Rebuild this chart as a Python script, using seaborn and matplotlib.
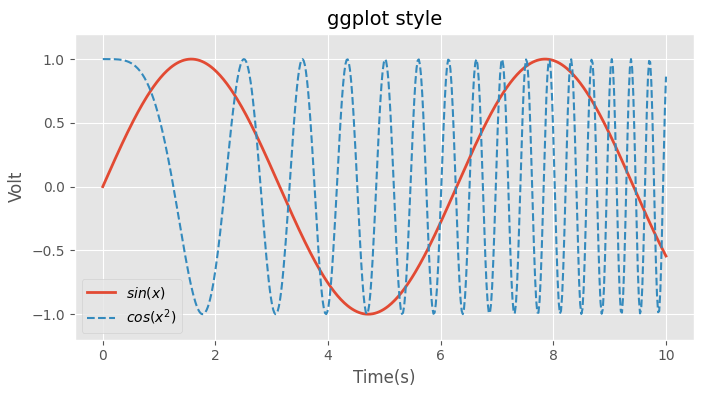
import numpy as np
import pandas as pd
import matplotlib
matplotlib.use('Agg')
import matplotlib.pyplot as plt
import seaborn as sns

# data: the two labelled signals sin(x) and cos(x^2) on 0..10
x = np.linspace(0, 10, 500)
sin_vals = np.sin(x)
cos_vals = np.cos(x ** 2)

plt.style.use('ggplot')

fig, ax = plt.subplots(figsize=(7.04, 3.95), dpi=100)
sns.lineplot(x=x, y=sin_vals, ax=ax, color='#E24A33', linewidth=2, label='$sin(x)$')
sns.lineplot(x=x, y=cos_vals, ax=ax, color='#348ABD', linewidth=1.5, linestyle='--', label='$cos(x^2)$')

ax.set_title('ggplot style', fontsize=14)
ax.set_xlabel('Time(s)')
ax.set_ylabel('Volt')
ax.set_ylim(-1.2, 1.2)
ax.legend(loc='lower left')

fig.subplots_adjust(left=0.106, right=0.986, top=0.915, bottom=0.14)
fig.savefig('out.png', dpi=100)
